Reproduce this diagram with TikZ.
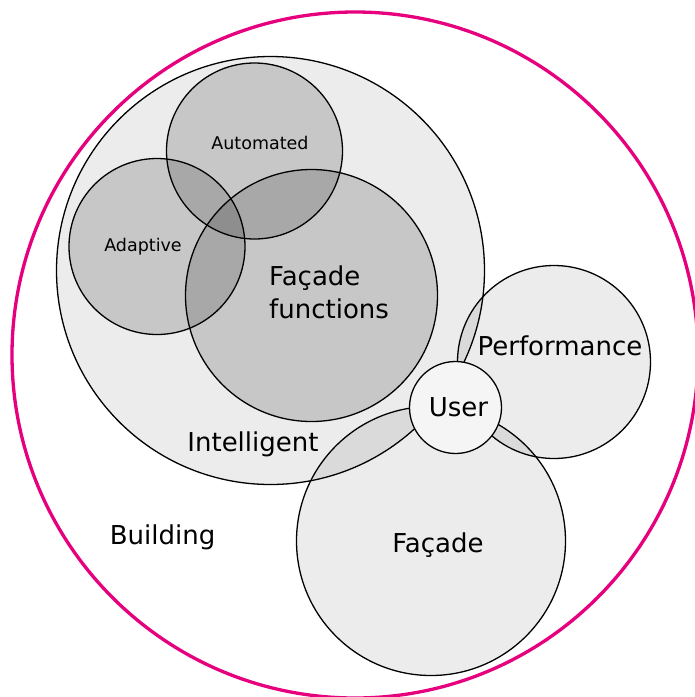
\documentclass[tikz,border=0pt]{standalone}
\usepackage{fontspec}
\setmainfont{DejaVu Sans}
\usepackage{tikz}
\definecolor{buildingpink}{HTML}{E6007E}
\definecolor{userfill}{HTML}{F5F5F5}

\begin{document}
\begin{tikzpicture}[x=1pt, y=-1pt,
    circ/.style={circle, draw, line width=1.3pt, inner sep=0pt, minimum size=#1},
    pale/.style={fill=black, fill opacity=0.075},
    mid/.style={fill=black, fill opacity=0.155},
    big/.style={font=\fontsize{26}{33}\selectfont, anchor=base},
    small/.style={font=\fontsize{17.5}{21}\selectfont, anchor=base}]
    \useasboundingbox (0,0) rectangle (695,697);
    \node[circ=686pt, draw=buildingpink, line width=3.3pt] (building) at (355,355) {};
    \node[circ=428pt, pale] (intelligent) at (270.5,270.5) {};
    \node[circ=176pt, mid] (automated) at (254.5,151) {};
    \node[circ=176pt, mid] (adaptive) at (157,246.5) {};
    \node[circ=252pt, mid] (functions) at (311.5,295.5) {};
    \node[circ=193pt, pale] (performance) at (554,362) {};
    \node[circ=269pt, pale] (facade) at (431,541) {};
    \node[circ=92pt, fill=userfill] (user) at (455.5,407.5) {};
    \node[small] (automatedlbl) at (260,149) {Automated};
    \node[small] (adaptivelbl) at (143,251.5) {Adaptive};
    \node[big, align=left, anchor=north west, inner sep=0pt] (functionslbl) at (269,266) {Façade\\functions};
    \node[big] (intelligentlbl) at (253,451) {Intelligent};
    \node[big] (buildinglbl) at (162.5,544) {Building};
    \node[big] (performancelbl) at (560,355) {Performance};
    \node[big] (userlbl) at (458.5,416.5) {User};
    \node[big] (facadelbl) at (438,552) {Façade};
\end{tikzpicture}
\end{document}
